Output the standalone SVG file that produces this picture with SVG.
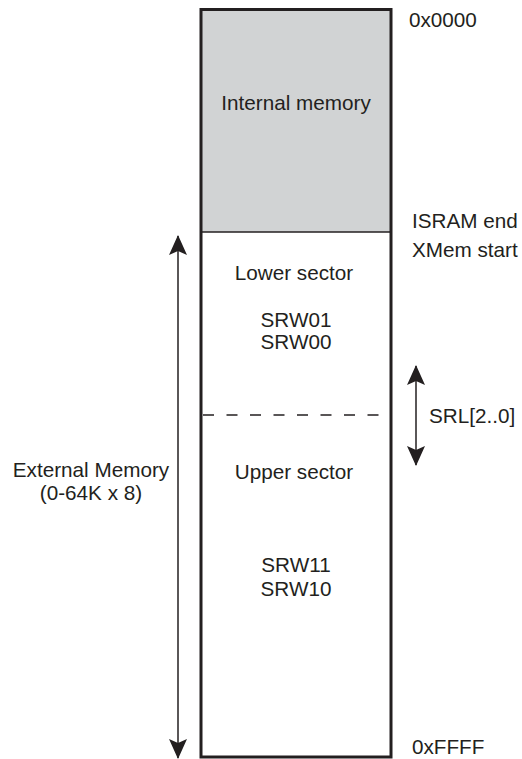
<svg xmlns="http://www.w3.org/2000/svg" width="522" height="759" viewBox="0 0 522 759">
  <style>
    text { font-family: "Liberation Sans", Arial, sans-serif; font-size: 20.7px; fill: #231f20; }
    .c { text-anchor: middle; }
    .line { stroke: #231f20; fill: none; }
    .head { fill: #231f20; stroke: none; }
  </style>
  <defs>
    <marker id="ah" viewBox="0 0 20 18" refX="19" refY="9" markerWidth="20" markerHeight="18" markerUnits="userSpaceOnUse" orient="auto-start-reverse">
      <path class="head" d="M0,0 L20,9 L0,18 L4,9 Z"/>
    </marker>
  </defs>
  <rect width="522" height="759" fill="#ffffff"/>

  <g id="internal-memory">
    <rect x="201" y="9.5" width="190" height="222.5" fill="#d1d3d4"/>
    <text class="c" x="296" y="110">Internal memory</text>
  </g>

  <g id="lower-sector">
    <text class="c" x="294" y="280">Lower sector</text>
    <text class="c" x="296" y="327">SRW01</text>
    <text class="c" x="296" y="349">SRW00</text>
  </g>

  <g id="upper-sector">
    <text class="c" x="294" y="479">Upper sector</text>
    <text class="c" x="296" y="572">SRW11</text>
    <text class="c" x="296" y="596">SRW10</text>
  </g>

  <g id="memory-block">
    <rect x="201" y="9.5" width="190" height="747.5" fill="none" stroke="#231f20" stroke-width="3"/>
    <line class="line" x1="201" y1="232" x2="391" y2="232" stroke-width="1.5"/>
    <line class="line" x1="201" y1="415" x2="391" y2="415" stroke-width="1.5" stroke-dasharray="11,12.5" stroke-dashoffset="-2"/>
  </g>

  <g id="address-labels">
    <text x="409" y="27">0x0000</text>
    <text x="412" y="228">ISRAM end</text>
    <text x="412" y="257">XMem start</text>
    <text x="429" y="423">SRL[2..0]</text>
    <text x="412" y="754">0xFFFF</text>
  </g>

  <g id="external-memory-label">
    <text class="c" x="91" y="477">External Memory</text>
    <text class="c" x="91" y="500">(0-64K x 8)</text>
  </g>

  <g id="connectors">
    <line class="line" x1="178" y1="236" x2="178" y2="758" stroke-width="1.5" marker-start="url(#ah)" marker-end="url(#ah)"/>
    <line class="line" x1="416" y1="366" x2="416" y2="465" stroke-width="1.5" marker-start="url(#ah)" marker-end="url(#ah)"/>
  </g>
</svg>
